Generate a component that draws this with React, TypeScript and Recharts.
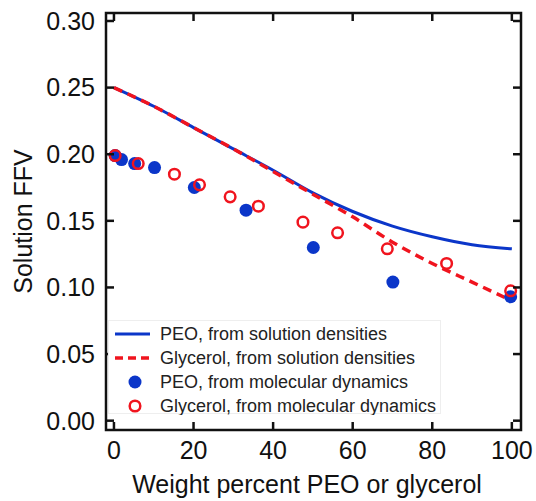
import React from "react";
import {
  ComposedChart,
  Line,
  Scatter,
  XAxis,
  YAxis,
  Legend,
  ReferenceArea,
} from "recharts";

// density-derived FFV curves
const pctGrid = [0, 10, 20, 30, 40, 50, 60, 70, 80, 90, 100];
const peoDensityFFV = [0.25, 0.236, 0.22, 0.204, 0.188, 0.171, 0.157, 0.146, 0.138, 0.132, 0.129];
const glyDensityFFV = [0.25, 0.236, 0.22, 0.204, 0.187, 0.17, 0.153, 0.134, 0.118, 0.104, 0.09];

// molecular dynamics points
const peoMdPct = [0.3, 1.9, 5.2, 10.2, 20.2, 33.2, 50.1, 70.1, 99.7];
const peoMdFFV = [0.199, 0.196, 0.193, 0.19, 0.175, 0.158, 0.13, 0.104, 0.093];
const glyMdPct = [0.3, 6.1, 15.2, 21.5, 29.2, 36.3, 47.5, 56.2, 68.7, 83.6, 99.7];
const glyMdFFV = [0.199, 0.193, 0.185, 0.177, 0.168, 0.161, 0.149, 0.141, 0.129, 0.118, 0.0975];

const xTicks = [0, 20, 40, 60, 80, 100];
const yTicks = [0, 0.05, 0.1, 0.15, 0.2, 0.25, 0.3];

const legendItems = [
  "PEO, from solution densities",
  "Glycerol, from solution densities",
  "PEO, from molecular dynamics",
  "Glycerol, from molecular dynamics",
];

const BLUE = "#0b36c9";
const RED = "#f0141e";
const INK = "#111";
const FONT = "'Liberation Sans', Arial, sans-serif";

const peoLine = pctGrid.map((x, i) => ({ x, y: peoDensityFFV[i] }));
const glyLine = pctGrid.map((x, i) => ({ x, y: glyDensityFFV[i] }));
const peoMd = peoMdPct.map((x, i) => ({ x, y: peoMdFFV[i] }));
const glyMd = glyMdPct.map((x, i) => ({ x, y: glyMdFFV[i] }));

const XDOM: [number, number] = [-2, 102.3];
const YDOM: [number, number] = [-0.007, 0.306];

// plot box edges (from margins / axis sizes below)
const BOX = { left: 106, right: 521, top: 13, bottom: 430 };
const TICK = 8;

const XTick = (p: any) => {
  const cx = p.payload.coordinate;
  return (
    <g>
      <line x1={cx} x2={cx} y1={BOX.bottom} y2={BOX.bottom - TICK} stroke={INK} strokeWidth={2.5} />
      <line x1={cx} x2={cx} y1={BOX.top} y2={BOX.top + TICK} stroke={INK} strokeWidth={2.5} />
      <text x={cx} y={p.y} dy="0.71em" textAnchor="middle" fontSize={25} fill={INK} fontFamily={FONT}>
        {p.payload.value}
      </text>
    </g>
  );
};

const YTick = (p: any) => {
  const cy = p.payload.coordinate;
  return (
    <g>
      <line x1={BOX.left} x2={BOX.left + TICK} y1={cy} y2={cy} stroke={INK} strokeWidth={2.5} />
      <line x1={BOX.right} x2={BOX.right - TICK} y1={cy} y2={cy} stroke={INK} strokeWidth={2.5} />
      <text x={p.x} y={cy} dy="0.355em" textAnchor="end" fontSize={25} fill={INK} fontFamily={FONT}>
        {Number(p.payload.value).toFixed(2)}
      </text>
    </g>
  );
};

const XTitle = () => (
  <text x={307} y={493} textAnchor="middle" fontSize={25} fill={INK} fontFamily={FONT}>
    Weight percent PEO or glycerol
  </text>
);

const YTitle = () => (
  <text
    x={23}
    y={221.5}
    transform="rotate(-90 23 221.5)"
    textAnchor="middle"
    dominantBaseline="central"
    fontSize={25}
    fill={INK}
    fontFamily={FONT}
  >
    Solution FFV
  </text>
);

const renderLegend = () => (
  <svg width={333} height={95} style={{ display: "block" }}>
    <rect x={0.5} y={0.5} width={332} height={93} fill="white" stroke="#eeeeee" />
    {legendItems.map((name, i) => {
      const cy = 14 + i * 24;
      return (
        <g key={name}>
          {i === 0 && <line x1={7} x2={42} y1={cy} y2={cy} stroke={BLUE} strokeWidth={3} />}
          {i === 1 && (
            <line x1={7} x2={42} y1={cy} y2={cy} stroke={RED} strokeWidth={3.5} strokeDasharray="8 5" />
          )}
          {i === 2 && <circle cx={27} cy={cy} r={6.5} fill={BLUE} />}
          {i === 3 && <circle cx={27} cy={cy} r={5.3} fill="none" stroke={RED} strokeWidth={2.5} />}
          <text x={52} y={cy} dominantBaseline="central" fontSize={18} fill="#222" fontFamily={FONT}>
            {name}
          </text>
        </g>
      );
    })}
  </svg>
);

export default function App() {
  return (
    <div style={{ position: "absolute", left: 0, top: 0, background: "white" }}>
      <ComposedChart width={536} height={501} margin={{ top: 13, right: 15, left: 0, bottom: 0 }}>
        <XAxis
          dataKey="x"
          type="number"
          domain={XDOM}
          allowDataOverflow
          ticks={xTicks}
          tickLine={false}
          tickSize={0}
          tickMargin={11}
          height={71}
          axisLine={false}
          tick={<XTick />}
          label={<XTitle />}
        />
        <YAxis
          type="number"
          domain={YDOM}
          allowDataOverflow
          ticks={yTicks}
          tickLine={false}
          tickSize={0}
          tickMargin={11}
          width={106}
          axisLine={false}
          tick={<YTick />}
          label={<YTitle />}
        />
        <Line
          data={peoLine}
          dataKey="y"
          type="monotone"
          stroke={BLUE}
          strokeWidth={3}
          dot={false}
          isAnimationActive={false}
        />
        <Line
          data={glyLine}
          dataKey="y"
          type="monotone"
          stroke={RED}
          strokeWidth={3.5}
          strokeDasharray="9 6"
          dot={false}
          isAnimationActive={false}
        />
        <Scatter
          data={peoMd}
          dataKey="y"
          isAnimationActive={false}
          shape={(p: any) => <circle cx={p.cx} cy={p.cy} r={6.5} fill={BLUE} />}
        />
        <Scatter
          data={glyMd}
          dataKey="y"
          isAnimationActive={false}
          shape={(p: any) => (
            <circle cx={p.cx} cy={p.cy} r={5.3} fill="none" stroke={RED} strokeWidth={2.5} />
          )}
        />
        <ReferenceArea
          x1={XDOM[0]}
          x2={XDOM[1]}
          y1={YDOM[0]}
          y2={YDOM[1]}
          fill="none"
          stroke={INK}
          strokeWidth={2.5}
          ifOverflow="visible"
        />
        <Legend
          layout="vertical"
          align="center"
          verticalAlign="middle"
          content={renderLegend}
          wrapperStyle={{ position: "absolute", left: 108, top: 320, width: 333, height: 95 }}
        />
      </ComposedChart>
    </div>
  );
}
